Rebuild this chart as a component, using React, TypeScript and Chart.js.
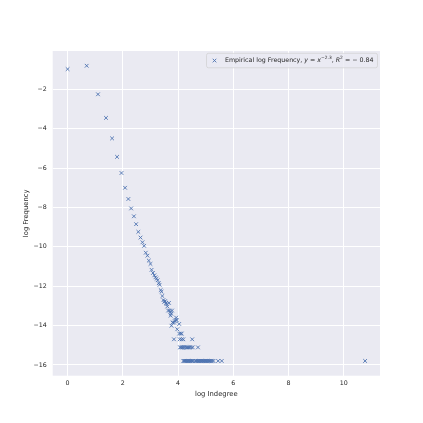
import React, { useEffect, useRef } from "react";
import { Chart, registerables } from "chart.js";

Chart.register(...registerables);

// log(indegree) values
const logDegree = [
  0, 0.69, 1.10, 1.39, 1.61, 1.79, 1.95, 2.08, 2.20, 2.30,
  2.40, 2.48, 2.56, 2.64, 2.71, 2.77, 2.83, 2.89, 2.94, 3.00,
  3.04, 3.09, 3.14, 3.18, 3.22, 3.26, 3.30, 3.33, 3.37, 3.40,
  3.43, 3.47, 3.50, 3.53, 3.56, 3.58, 3.61, 3.64, 3.67, 3.70,
  3.72, 3.75, 3.73, 3.78, 3.80, 3.85, 3.88, 3.91, 3.93, 3.95,
  3.76, 4.04, 3.97, 4.04, 4.10, 4.13,
  3.85, 4.06, 4.13, 4.19, 4.51,
  4.07, 4.10, 4.14, 4.17, 4.21, 4.25, 4.30, 4.34, 4.38, 4.42, 4.47, 4.53, 4.72,
  4.19, 4.22, 4.25, 4.28, 4.32, 4.36, 4.39, 4.43, 4.47, 4.50, 4.54, 4.62, 4.65,
  4.69, 4.72, 4.76, 4.80, 4.83, 4.87, 4.90, 4.94, 4.98, 5.01, 5.05, 5.09, 5.12,
  5.16, 5.20, 5.24, 5.28, 5.45, 5.58, 10.77,
];

// log(frequency) values
const logFrequency = [
  -0.97, -0.80, -2.25, -3.45, -4.49, -5.43, -6.25, -7.00, -7.57, -8.05,
  -8.45, -8.85, -9.24, -9.53, -9.77, -9.95, -10.30, -10.45, -10.70, -10.87,
  -11.17, -11.33, -11.45, -11.55, -11.62, -11.70, -11.85, -11.93, -12.20, -12.28,
  -12.50, -12.71, -12.80, -12.76, -12.85, -12.91, -13.03, -13.24, -12.85, -13.24,
  -13.32, -13.40, -13.50, -13.24, -13.85, -13.85, -13.78, -13.72, -13.60, -13.72,
  -14.01, -13.92, -14.19, -14.41, -14.41, -14.41,
  -14.70, -14.70, -14.70, -14.70, -14.70,
  -15.11, -15.11, -15.11, -15.11, -15.11, -15.11, -15.11, -15.11, -15.11, -15.11, -15.11, -15.11, -15.11,
  -15.80, -15.80, -15.80, -15.80, -15.80, -15.80, -15.80, -15.80, -15.80, -15.80, -15.80, -15.80, -15.80,
  -15.80, -15.80, -15.80, -15.80, -15.80, -15.80, -15.80, -15.80, -15.80, -15.80, -15.80, -15.80, -15.80,
  -15.80, -15.80, -15.80, -15.80, -15.80, -15.80, -15.80,
];

const xTickValues = [0, 2, 4, 6, 8, 10];
const yTickValues = [-2, -4, -6, -8, -10, -12, -14, -16];
const xLimits = [-0.54, 11.31];
const yLimits = [-16.55, -0.05];

const xAxisLabel = "log Indegree";
const yAxisLabel = "log Frequency";

// legend label pieces (mathtext-like)
const legendParts: { t: string; s: "normal" | "italic" | "sup" }[] = [
  { t: "Empirical log Frequency, ", s: "normal" },
  { t: "y", s: "italic" },
  { t: " = ", s: "normal" },
  { t: "x", s: "italic" },
  { t: "\u22122.3", s: "sup" },
  { t: ", ", s: "normal" },
  { t: "R", s: "italic" },
  { t: "2", s: "sup" },
  { t: " = \u2212 0.84", s: "normal" },
];

const FONT = "'DejaVu Sans', sans-serif";
const MARKER = "#4C72B0";
const AXBG = "#EAEAF2";
const TEXT = "#262626";

export default function App() {
  const ref = useRef<HTMLCanvasElement | null>(null);

  useEffect(() => {
    if (!ref.current) return;
    const bgPlugin = {
      id: "bg",
      beforeDraw(chart: any) {
        const { ctx, chartArea } = chart;
        ctx.save();
        ctx.fillStyle = "#ffffff";
        ctx.fillRect(0, 0, chart.width, chart.height);
        ctx.fillStyle = AXBG;
        ctx.fillRect(chartArea.left, chartArea.top, chartArea.right - chartArea.left, chartArea.bottom - chartArea.top);
        ctx.restore();
      },
    };
    const legendPlugin = {
      id: "mathLegend",
      afterDraw(chart: any) {
        const { ctx, chartArea } = chart;
        const fs = 6.3;
        const supFs = fs * 0.7;
        const fontFor = (s: string) =>
          s === "italic" ? `italic ${fs}px ${FONT}` : s === "sup" ? `${supFs}px ${FONT}` : `${fs}px ${FONT}`;
        ctx.save();
        let tw = 0;
        for (const p of legendParts) {
          ctx.font = fontFor(p.s);
          tw += ctx.measureText(p.t).width;
        }
        const h = 14.5;
        const padL = 18.4;
        const padR = 4;
        const w = padL + tw + padR;
        const right = chartArea.right - 2.5;
        const top = chartArea.top + 2.3;
        const left = right - w;
        // box
        const r = 2;
        ctx.beginPath();
        ctx.moveTo(left + r, top);
        ctx.lineTo(right - r, top);
        ctx.quadraticCurveTo(right, top, right, top + r);
        ctx.lineTo(right, top + h - r);
        ctx.quadraticCurveTo(right, top + h, right - r, top + h);
        ctx.lineTo(left + r, top + h);
        ctx.quadraticCurveTo(left, top + h, left, top + h - r);
        ctx.lineTo(left, top + r);
        ctx.quadraticCurveTo(left, top, left + r, top);
        ctx.closePath();
        ctx.fillStyle = "rgba(234,234,242,0.8)";
        ctx.fill();
        ctx.strokeStyle = "rgba(204,204,204,0.8)";
        ctx.lineWidth = 0.8;
        ctx.stroke();
        // marker
        const mx = left + 8;
        const my = top + h / 2;
        const d = 1.8;
        ctx.strokeStyle = MARKER;
        ctx.lineWidth = 0.9;
        ctx.beginPath();
        ctx.moveTo(mx - d, my - d);
        ctx.lineTo(mx + d, my + d);
        ctx.moveTo(mx - d, my + d);
        ctx.lineTo(mx + d, my - d);
        ctx.stroke();
        // text
        let x = left + padL;
        ctx.fillStyle = TEXT;
        ctx.textBaseline = "middle";
        ctx.textAlign = "left";
        for (const p of legendParts) {
          ctx.font = fontFor(p.s);
          const yy = p.s === "sup" ? my - fs * 0.38 : my;
          ctx.fillText(p.t, x, yy);
          x += ctx.measureText(p.t).width;
        }
        ctx.restore();
      },
    };

    const chart = new Chart(ref.current, {
      type: "scatter",
      data: {
        datasets: [
          {
            label: "Empirical log Frequency",
            data: logDegree.map((x, i) => ({ x, y: logFrequency[i] })),
            pointStyle: "crossRot",
            pointRadius: 2.6,
            pointHoverRadius: 2.6,
            borderColor: MARKER,
            backgroundColor: MARKER,
            pointBorderWidth: 0.9,
          },
        ],
      },
      options: {
        responsive: false,
        animation: false,
        devicePixelRatio: 1,
        layout: { padding: { top: 51, right: 43, left: 0, bottom: 0 } },
        plugins: { legend: { display: false }, tooltip: { enabled: false } },
        scales: {
          x: {
            type: "linear",
            min: xLimits[0],
            max: xLimits[1],
            afterBuildTicks: (scale: any) => {
              scale.ticks = xTickValues.map((v) => ({ value: v }));
            },
            afterFit: (scale: any) => {
              scale.height = 47.3;
            },
            grid: { color: "#ffffff", lineWidth: 1, drawTicks: false },
            border: { display: false },
            ticks: {
              color: TEXT,
              font: { family: FONT, size: 6.3 },
              padding: 4,
              maxRotation: 0,
              callback: (v: any) => String(v),
            },
            title: {
              display: true,
              text: xAxisLabel,
              color: TEXT,
              font: { family: FONT, size: 6.8 },
              padding: { top: 0, bottom: 24.5 },
            },
          },
          y: {
            type: "linear",
            min: yLimits[0],
            max: yLimits[1],
            afterBuildTicks: (scale: any) => {
              scale.ticks = yTickValues.map((v) => ({ value: v }));
            },
            afterFit: (scale: any) => {
              scale.width = 52.7;
            },
            grid: { color: "#ffffff", lineWidth: 1, drawTicks: false },
            border: { display: false },
            ticks: {
              color: TEXT,
              font: { family: FONT, size: 6.3 },
              padding: 6,
              callback: (v: any) => (v < 0 ? "\u2212" + Math.abs(v) : String(v)),
            },
            title: {
              display: true,
              text: yAxisLabel,
              color: TEXT,
              font: { family: FONT, size: 6.8 },
              padding: { top: 22.5, bottom: 0 },
            },
          },
        },
      },
      plugins: [bgPlugin, legendPlugin],
    } as any);
    return () => chart.destroy();
  }, []);

  return (
    <div style={{ position: "fixed", left: 0, top: 0, width: 423, height: 423, background: "#fff" }}>
      <canvas ref={ref} width={423} height={423} style={{ display: "block", width: 423, height: 423 }} />
    </div>
  );
}
